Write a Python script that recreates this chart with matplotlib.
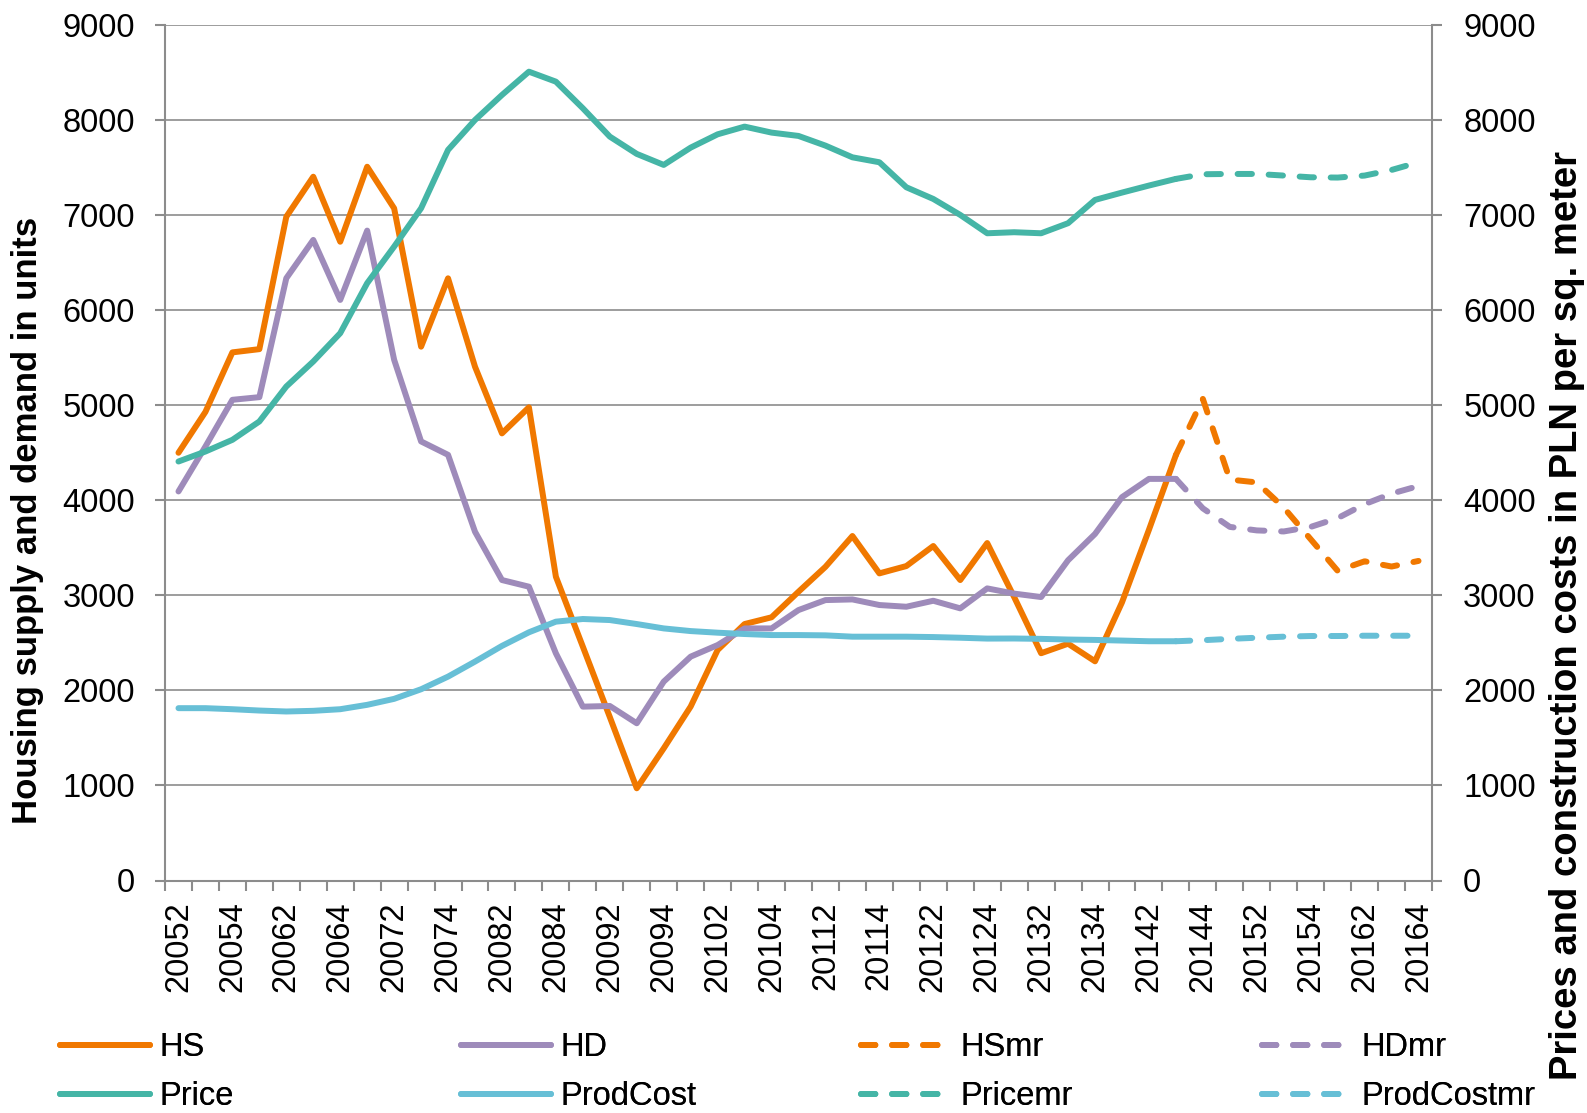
import numpy as np
import matplotlib
matplotlib.use("Agg")
import matplotlib.pyplot as plt

plt.rcParams['font.family'] = ['Liberation Sans', 'DejaVu Sans']

# Quarters 2005Q2 .. 2016Q4 (label = year + quarter digit)
quarters = ['20052', '20053', '20054',
            '20061', '20062', '20063', '20064',
            '20071', '20072', '20073', '20074',
            '20081', '20082', '20083', '20084',
            '20091', '20092', '20093', '20094',
            '20101', '20102', '20103', '20104',
            '20111', '20112', '20113', '20114',
            '20121', '20122', '20123', '20124',
            '20131', '20132', '20133', '20134',
            '20141', '20142', '20143', '20144',
            '20151', '20152', '20153', '20154',
            '20161', '20162', '20163', '20164']

# observed series (2005Q2 .. 2014Q3)
hs = [4500, 4930, 5556, 5590, 6983, 7404, 6720, 7509, 7071, 5616,
      6335, 5405, 4704, 4978, 3196, 2460, 1720, 970, 1390, 1830,
      2425, 2698, 2769, 3038, 3300, 3624, 3231, 3308, 3519, 3161,
      3550, 2982, 2391, 2491, 2306, 2926, 3690, 4476]
hd = [4093, 4566, 5057, 5085, 6336, 6739, 6108, 6837, 5478, 4619,
      4478, 3669, 3161, 3091, 2390, 1829, 1836, 1654, 2092, 2355,
      2477, 2652, 2652, 2845, 2950, 2957, 2898, 2880, 2943, 2863,
      3073, 3018, 2982, 3369, 3646, 4033, 4225, 4225]
price = [4408, 4513, 4636, 4829, 5197, 5460, 5758, 6284, 6669, 7072,
         7686, 8001, 8264, 8509, 8404, 8124, 7826, 7644, 7528, 7710,
         7850, 7931, 7868, 7833, 7731, 7608, 7556, 7293, 7170, 7002,
         6809, 6820, 6809, 6915, 7160, 7237, 7311, 7381]
prodcost = [1813, 1813, 1802, 1788, 1778, 1785, 1802, 1848, 1911, 2012,
            2145, 2303, 2468, 2611, 2723, 2751, 2740, 2698, 2652, 2624,
            2607, 2593, 2582, 2582, 2579, 2565, 2565, 2565, 2561, 2554,
            2545, 2546, 2542, 2535, 2531, 2524, 2517, 2517]

# model runs (2014Q3 .. 2016Q4)
hs_mr = [4476, 5066, 4218, 4188, 3923, 3590, 3258, 3358, 3303, 3362]
hd_mr = [4225, 3915, 3720, 3683, 3672, 3720, 3812, 3959, 4070, 4150]
price_mr = [7381, 7430, 7433, 7433, 7416, 7398, 7395, 7416, 7475, 7556]
prodcost_mr = [2517, 2528, 2542, 2554, 2565, 2572, 2572, 2575, 2575, 2575]

C_HS = '#F07800'
C_HD = '#9E8BBA'
C_PRICE = '#45B5A6'
C_COST = '#67BFD6'
GRAY = '#8C8C8C'

LW = 4.3
DASH = (0, (2.4, 2.8))
FS = 23.5


def main():
    n = len(quarters)
    x = np.arange(n)
    x_obs = x[:len(hs)]
    x_mr = x[len(hs) - 1:]

    fig = plt.figure(figsize=(15.87, 11.13), dpi=100)
    ax = fig.add_axes([165 / 1587, 1 - 880.5 / 1113, 1267 / 1587, 855.5 / 1113])
    ax2 = ax.twinx()

    kw = dict(lw=LW, solid_capstyle='round', solid_joinstyle='round',
              dash_capstyle='round', dash_joinstyle='round')

    l_hs, = ax.plot(x_obs, hs, color=C_HS, label='HS', **kw)
    l_hd, = ax.plot(x_obs, hd, color=C_HD, label='HD', **kw)
    l_hsmr, = ax.plot(x_mr, hs_mr, color=C_HS, ls=DASH, label='HSmr', **kw)
    l_hdmr, = ax.plot(x_mr, hd_mr, color=C_HD, ls=DASH, label='HDmr', **kw)
    l_pr, = ax2.plot(x_obs, price, color=C_PRICE, label='Price', **kw)
    l_pc, = ax2.plot(x_obs, prodcost, color=C_COST, label='ProdCost', **kw)
    l_prmr, = ax2.plot(x_mr, price_mr, color=C_PRICE, ls=DASH, label='Pricemr', **kw)
    l_pcmr, = ax2.plot(x_mr, prodcost_mr, color=C_COST, ls=DASH, label='ProdCostmr', **kw)

    yt = np.arange(0, 9001, 1000)
    for a in (ax, ax2):
        a.set_xlim(-0.5, n - 0.5)
        a.set_ylim(0, 9000)
        a.set_yticks(yt)
        a.set_yticklabels([str(v) for v in yt])
        for s in a.spines.values():
            s.set_visible(False)

    ax.spines['left'].set_visible(True)
    ax.spines['bottom'].set_visible(True)
    ax2.spines['right'].set_visible(True)
    for s in (ax.spines['left'], ax.spines['bottom'], ax2.spines['right']):
        s.set_color(GRAY)
        s.set_linewidth(1.5)
        s.set_zorder(0.5)

    ax.grid(axis='y', color=GRAY, lw=1.2)
    ax.set_axisbelow(True)

    # x axis: labels on every other quarter, tick marks between quarters
    ax.set_xticks(x[::2])
    ax.set_xticklabels(quarters[::2], rotation=90, fontsize=FS)
    ax.set_xticks(np.arange(-0.5, n, 1.0), minor=True)
    ax.tick_params(axis='x', which='major', length=0, pad=15)
    ax.tick_params(axis='x', which='minor', length=7.5, width=1.5, color=GRAY,
                   direction='out')
    ax2.tick_params(axis='x', which='both', length=0, labelbottom=False)

    ax.tick_params(axis='y', length=7.5, width=1.5, color=GRAY, direction='out',
                   labelsize=FS, pad=14)
    ax2.tick_params(axis='y', length=7.5, width=1.5, color=GRAY, direction='out',
                    labelsize=FS, pad=15)

    fig.text(28 / 1587, 1 - 520 / 1113, 'Housing supply and demand in units',
             rotation=90, ha='center', va='center', fontsize=25, fontweight='bold')
    fig.text(1567 / 1587, 1 - 616 / 1113,
             'Prices and construction costs in PLN per sq. meter',
             rotation=90, ha='center', va='center', fontsize=27.5, fontweight='bold')

    # legend: four columns, two rows
    columns = [(l_hs, l_pr), (l_hd, l_pc), (l_hsmr, l_prmr), (l_hdmr, l_pcmr)]
    col_x = [60, 461, 861, 1262]
    for handles, cx in zip(columns, col_x):
        leg = fig.legend(handles=list(handles), loc='center left',
                         bbox_to_anchor=(cx / 1587, 1 - 1072 / 1113),
                         frameon=False, fontsize=FS, borderpad=0, borderaxespad=0,
                         handlelength=2.75, handletextpad=0.3, labelspacing=0.55)
        fig.add_artist(leg)

    fig.savefig('out.png', dpi=100)


if __name__ == '__main__':
    main()
